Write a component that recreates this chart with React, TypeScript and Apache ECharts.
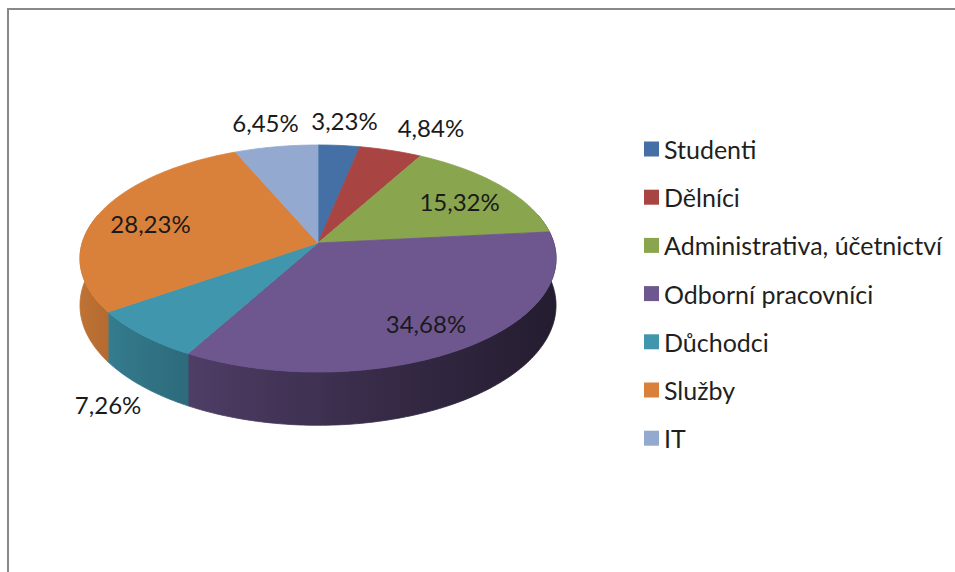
import React, { useEffect, useRef } from "react";
import * as echarts from "echarts";

const categories = [
  "Studenti",
  "Dělníci",
  "Administrativa, účetnictví",
  "Odborní pracovníci",
  "Důchodci",
  "Služby",
  "IT",
];
const percentValues = [3.23, 4.84, 15.32, 34.68, 7.26, 28.23, 6.45];
const sliceColors = ["#4470A5", "#A84543", "#89A54E", "#6E568F", "#3F96AD", "#D9813B", "#93A9CF"];

const FONT = "Lato, 'Noto Sans', sans-serif";
const FONT_SIZE = 24;
const LEGEND_FONT_SIZE = 25;
const CX = 318;
const CY = 243;
const RX = 235.8;
const RY = 111.4;
const K = 0.1366;
const DEPTH = 46;
const INSIDE_R = 0.76;
const LABEL_GAP = 13;
const INSIDE_MIN = 10;

function project(angleDeg: number, r: number) {
  const a = (angleDeg * Math.PI) / 180;
  const u = r * Math.sin(a);
  const v = -r * Math.cos(a);
  const w = 1 / (1 - K * v);
  return { x: CX + RX * u * w, y: CY + RY * v * w, w, v };
}

function shade(hex: string, f: number) {
  const n = parseInt(hex.slice(1), 16);
  const r = Math.min(255, Math.round(((n >> 16) & 255) * f));
  const g = Math.min(255, Math.round(((n >> 8) & 255) * f));
  const b = Math.min(255, Math.round((n & 255) * f));
  return `rgb(${r},${g},${b})`;
}

function wallFill(color: string) {
  const left = CX - RX * 1.01;
  const right = CX + RX * 1.01;
  const stops = [0, 0.1, 0.2, 0.35, 0.5, 0.65, 0.8, 0.9, 1].map((t) => ({
    offset: t,
    color: shade(color, 0.88 - 0.55 * Math.pow(t, 0.8)),
  }));
  return new echarts.graphic.LinearGradient(left, 0, right, 0, stops, true);
}

function fmt(v: number) {
  return v.toFixed(2).replace(".", ",") + "%";
}

type Slice = { start: number; end: number; mid: number; lx: number; ly: number; text: string };

function computeLayout(): Slice[] {
  const total = percentValues.reduce((a, b) => a + b, 0);
  let acc = 0;
  const canvas = document.createElement("canvas");
  const ctx = canvas.getContext("2d")!;
  ctx.font = `${FONT_SIZE}px Lato`;
  const placed: { x0: number; x1: number; y0: number; y1: number }[] = [];
  return percentValues.map((val) => {
    const start = (acc / total) * 360;
    acc += val;
    const end = (acc / total) * 360;
    const mid = (start + end) / 2;
    const text = fmt(val);
    let lx = 0;
    let ly = 0;
    if (val >= INSIDE_MIN) {
      const p = project(mid, INSIDE_R);
      lx = p.x;
      ly = p.y + 3;
    } else {
      const p = project(mid, 1);
      const ax = p.x;
      let ay = p.y;
      let hy = CY;
      if (p.v > 0) {
        ay += DEPTH * p.w;
        hy += DEPTH;
      }
      let dx = ax - CX;
      let dy = ay - hy;
      const len = Math.hypot(dx, dy) || 1;
      dx /= len;
      dy /= len;
      const W = ctx.measureText(text).width;
      const H = FONT_SIZE + 1;
      const t =
        Math.min(
          Math.abs(dx) > 1e-6 ? W / 2 / Math.abs(dx) : 1e9,
          Math.abs(dy) > 1e-6 ? H / 2 / Math.abs(dy) : 1e9
        ) + LABEL_GAP;
      lx = ax + dx * t;
      ly = ay + dy * t;
      for (const b of placed) {
        const x0 = lx - W / 2;
        const x1 = lx + W / 2;
        const y0 = ly - H / 2;
        const y1 = ly + H / 2;
        if (x0 < b.x1 && x1 > b.x0 && y0 < b.y1 && y1 > b.y0) {
          if (dx >= 0) lx += b.x1 - x0 + 20;
          else lx -= x1 - b.x0 + 20;
        }
      }
      placed.push({ x0: lx - W / 2, x1: lx + W / 2, y0: ly - H / 2, y1: ly + H / 2 });
    }
    return { start, end, mid, lx, ly, text };
  });
}

function arcPoints(a0: number, a1: number, drop: boolean) {
  const pts: number[][] = [];
  const step = 1;
  const n = Math.max(1, Math.ceil(Math.abs(a1 - a0) / step));
  for (let j = 0; j <= n; j++) {
    const a = a0 + ((a1 - a0) * j) / n;
    const p = project(a, 1);
    pts.push([p.x, drop ? p.y + DEPTH * p.w : p.y]);
  }
  return pts;
}

export default function App() {
  const ref = useRef<HTMLDivElement>(null);
  useEffect(() => {
    if (!ref.current) return;
    const chart = echarts.init(ref.current, null, { renderer: "svg" });
    const layout = computeLayout();

    const wallSeries = {
      type: "custom",
      name: "walls",
      coordinateSystem: "none",
      silent: true,
      z: 2,
      data: percentValues.map((v) => [v]),
      renderItem: (params: any) => {
        const i = params.dataIndex;
        const s = layout[i];
        const ws = Math.max(s.start, 75);
        const we = Math.min(s.end, 285);
        if (we <= ws) return { type: "group", children: [] };
        const top = arcPoints(ws, we, false);
        const bottom = arcPoints(we, ws, true);
        const fill = wallFill(sliceColors[i]);
        return {
          type: "polygon",
          z2: 1,
          shape: { points: top.concat(bottom) },
          style: { fill, stroke: fill, lineWidth: 0.8 },
        };
      },
    };

    const topSeries = categories.map((name, i) => ({
      type: "custom",
      name,
      coordinateSystem: "none",
      silent: true,
      z: 3,
      itemStyle: { color: sliceColors[i] },
      data: [[percentValues[i]]],
      renderItem: () => {
        const s = layout[i];
        const pts = [[CX, CY]].concat(arcPoints(s.start, s.end, false));
        return {
          type: "group",
          children: [
            {
              type: "polygon",
              z2: 10,
              shape: { points: pts },
              style: { fill: sliceColors[i], stroke: sliceColors[i], lineWidth: 0.8 },
            },
            {
              type: "text",
              z2: 100,
              style: {
                text: s.text,
                x: s.lx,
                y: s.ly,
                align: "center",
                verticalAlign: "middle",
                fontFamily: FONT,
                fontSize: FONT_SIZE,
                fill: "#1a1a1a",
              },
            },
          ],
        };
      },
    }));

    chart.setOption({
      animation: false,
      backgroundColor: "#ffffff",
      graphic: [
        {
          type: "rect",
          silent: true,
          shape: { x: 8, y: 9, width: 1200, height: 1200 },
          style: { fill: "none", stroke: "#888888", lineWidth: 2 },
        },
      ],
      legend: {
        data: categories,
        orient: "vertical",
        left: 644,
        top: 136.5,
        padding: 0,
        itemWidth: 15,
        itemHeight: 15,
        itemGap: 23.2,
        icon: "rect",
        selectedMode: false,
        textStyle: {
          fontFamily: FONT,
          fontSize: LEGEND_FONT_SIZE,
          color: "#1f1f1f",
          lineHeight: 25,
        },
      },
      series: [wallSeries, ...topSeries],
    } as any);
    return () => chart.dispose();
  }, []);
  return (
    <div
      ref={ref}
      style={{ position: "fixed", left: 0, top: 0, width: 955, height: 572 }}
    />
  );
}
